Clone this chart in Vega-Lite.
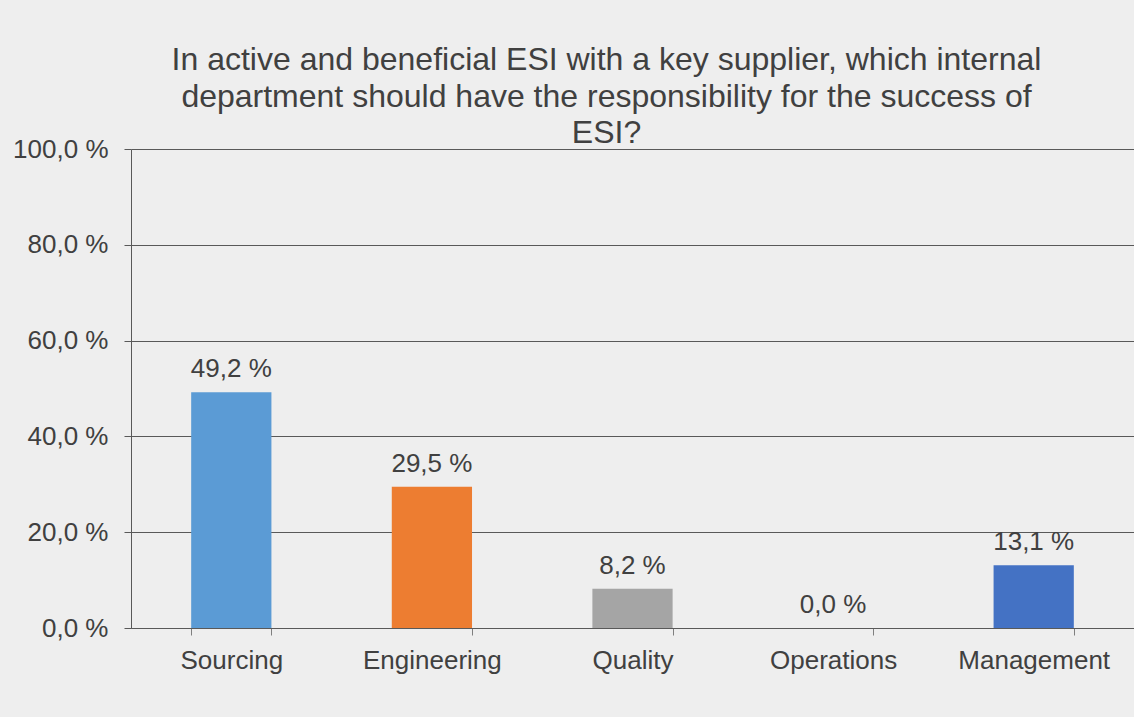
{
  "$schema": "https://vega.github.io/schema/vega-lite/v6.json",
  "width": 1003,
  "height": 479,
  "autosize": {"type": "none"},
  "padding": {"left": 131, "top": 149, "right": 0, "bottom": 89},
  "background": "#eeeeee",
  "title": {
    "text": ["In active and beneficial ESI with a key supplier, which internal", "department should have the responsibility for the success of", "ESI?"],
    "font": "Liberation Sans",
    "fontSize": 32,
    "fontWeight": "normal",
    "color": "#404040",
    "lineHeight": 36.5,
    "anchor": "middle",
    "dx": -26,
    "offset": -14
  },
  "config": {
    "view": {"stroke": null},
    "font": "Liberation Sans"
  },
  "data": {
    "values": [
      {"dept": "Sourcing", "pct": 49.2},
      {"dept": "Engineering", "pct": 29.5},
      {"dept": "Quality", "pct": 8.2},
      {"dept": "Operations", "pct": 0.0},
      {"dept": "Management", "pct": 13.1}
    ]
  },
  "encoding": {
    "x": {
      "field": "dept",
      "type": "nominal",
      "sort": null,
      "scale": {"paddingInner": 0.6, "paddingOuter": 0.3},
      "axis": {
        "title": null,
        "labelAngle": 0,
        "labelFont": "Liberation Sans",
        "labelFontSize": 26,
        "labelColor": "#404040",
        "labelPadding": 12,
        "tickBand": "extent",
        "tickSize": 7,
        "tickColor": "#7f7f7f",
        "domainColor": "#595959",
        "grid": false
      }
    },
    "y": {
      "field": "pct",
      "type": "quantitative",
      "scale": {"domain": [0, 100]},
      "axis": {
        "title": null,
        "values": [0, 20, 40, 60, 80, 100],
        "labelExpr": "replace(format(datum.value, '.1f'), '.', ',') + ' %'",
        "labelFont": "Liberation Sans",
        "labelFontSize": 26,
        "labelColor": "#404040",
        "labelPadding": 16,
        "tickSize": 7,
        "tickColor": "#595959",
        "domainColor": "#595959",
        "grid": true,
        "gridColor": "#595959",
        "gridWidth": 1
      }
    }
  },
  "layer": [
    {
      "mark": {"type": "bar"},
      "encoding": {
        "color": {
          "field": "dept",
          "type": "nominal",
          "sort": null,
          "legend": null,
          "scale": {
            "domain": ["Sourcing", "Engineering", "Quality", "Operations", "Management"],
            "range": ["#5b9bd5", "#ed7d31", "#a5a5a5", "#ffc000", "#4472c4"]
          }
        }
      }
    },
    {
      "mark": {"type": "text", "font": "Liberation Sans", "fontSize": 26, "color": "#404040", "baseline": "alphabetic", "dy": -15},
      "encoding": {
        "text": {"field": "label", "type": "nominal"}
      },
      "transform": [{"calculate": "replace(format(datum.pct, '.1f'), '.', ',') + ' %'", "as": "label"}]
    }
  ]
}
